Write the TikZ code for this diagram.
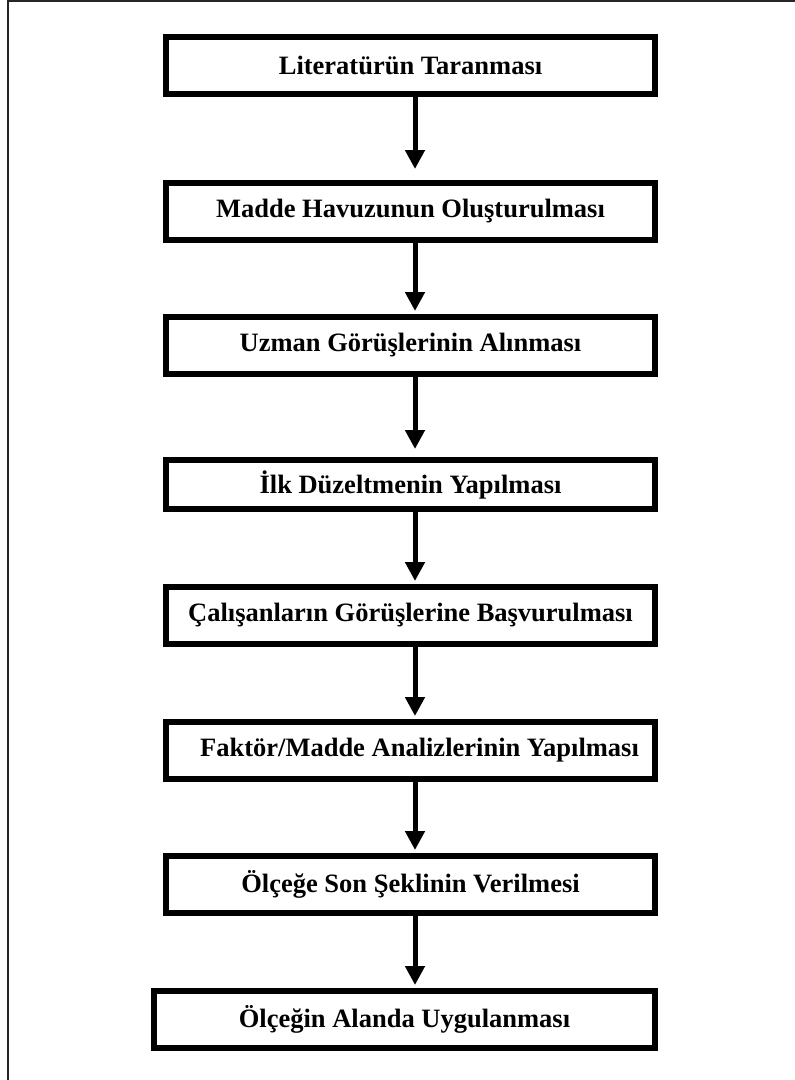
\documentclass[tikz,border=0pt]{standalone}
\usepackage{fontspec}
\setmainfont{Liberation Serif}
\usetikzlibrary{arrows.meta}
\tikzset{
  stepbox/.style={draw=black, line width=6bp, rectangle, minimum width=489bp, minimum height=57bp, inner sep=0pt, font=\fontsize{26.6}{30}\selectfont\bfseries},
  arr/.style={line width=5bp, -{Triangle[width=19bp,length=19bp]}, shorten >=3bp},
  frame/.style={line width=1.6bp, draw=black!85}
}
\begin{document}
\begin{tikzpicture}[x=1bp,y=-1bp]
\useasboundingbox (0,0) rectangle (795,1080);
\coordinate (ftl) at (8,1);
\coordinate (ftr) at (795,1);
\coordinate (fbl) at (8,1080);
\draw[frame] (ftr) -- (ftl) -- (fbl);
\node[stepbox] (b1) at (410.5,65.5) {Literatürün Taranması};
\node[stepbox] (b2) at (410.5,211.5) {Madde Havuzunun Oluşturulması};
\node[stepbox] (b3) at (410.5,345.5) {Uzman Görüşlerinin Alınması};
\node[stepbox, minimum height=49bp] (b4) at (410.5,484.5) {İlk Düzeltmenin Yapılması};
\node[stepbox] (b5) at (410.5,615.5) {Çalışanların Görüşlerine Başvurulması};
\node[stepbox] (b6) at (410.5,750.5) {\hspace*{18bp}Faktör/Madde Analizlerinin Yapılması};
\node[stepbox] (b7) at (410.5,884.5) {Ölçeğe Son Şeklinin Verilmesi};
\node[stepbox, minimum width=501bp] (b8) at (404.5,1019.5) {Ölçeğin Alanda Uygulanması};
\draw[arr, shorten >=11bp] (b1.south -| 415,0) -- (b2.north -| 415,0);
\draw[arr] (b2.south -| 415,0) -- (b3.north -| 415,0);
\draw[arr, shorten >=8bp] (b3.south -| 415,0) -- (b4.north -| 415,0);
\draw[arr] (b4.south -| 415,0) -- (b5.north -| 415,0);
\draw[arr] (b5.south -| 415,0) -- (b6.north -| 415,0);
\draw[arr] (b6.south -| 415,0) -- (b7.north -| 415,0);
\draw[arr] (b7.south -| 415,0) -- (b8.north -| 415,0);
\end{tikzpicture}
\end{document}
